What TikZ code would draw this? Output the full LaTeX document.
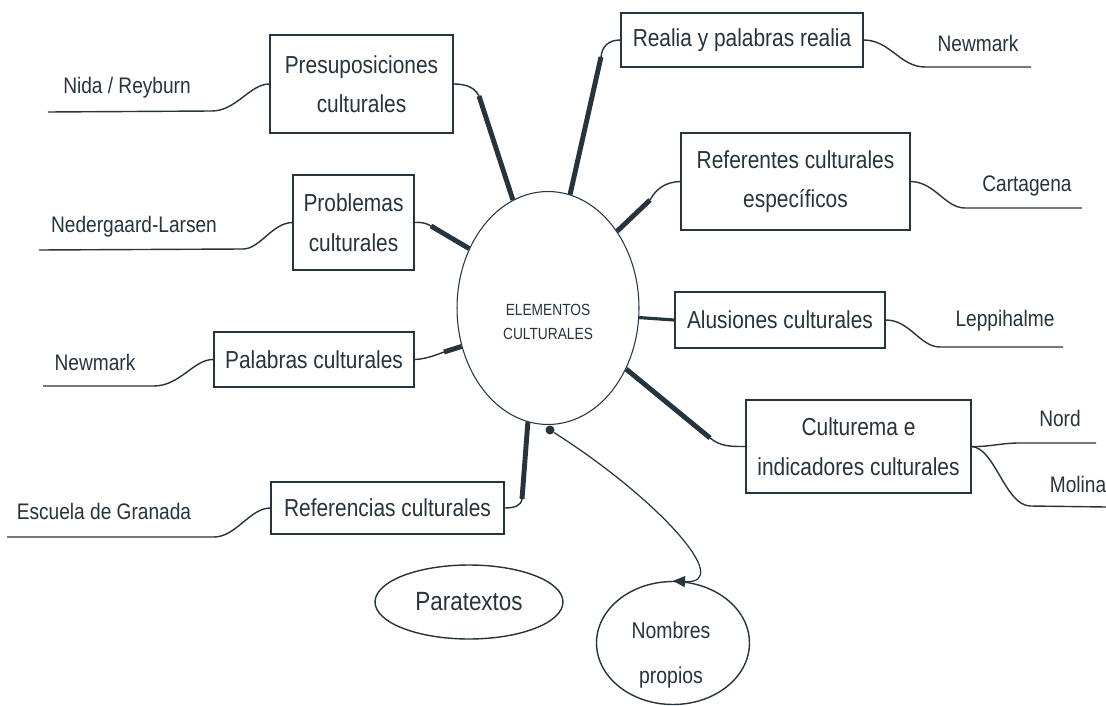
\documentclass[tikz,border=0pt]{standalone}
\usepackage{fontspec}
\setmainfont{Liberation Sans}[FakeStretch=0.85]
\usetikzlibrary{shapes.geometric,arrows.meta}
\definecolor{ink}{RGB}{38,52,62}
\begin{document}
\begin{tikzpicture}[x=0.02cm,y=-0.02cm,
  box/.style={draw=ink, line width=0.8pt, rectangle, inner sep=0pt, text=ink,
    font=\fontsize{14}{22.5}\selectfont, align=center},
  author/.style={text=ink, inner sep=0pt, font=\fontsize{12.8}{15}\selectfont},
  oval/.style={draw=ink, line width=0.8pt, ellipse, inner sep=0pt, text=ink, align=center},
  plaintext/.style={text=ink, inner sep=0pt, align=center},
  thinline/.style={draw=ink, line width=0.8pt},
  thickline/.style={draw=ink, line width=2.8pt},
  midline/.style={draw=ink, line width=1.8pt},
  arrowline/.style={draw=ink, line width=0.7pt, -{Triangle[length=2.4mm,width=2.2mm]}},
  dotnode/.style={circle, fill=ink, inner sep=0pt, minimum size=0.18cm}
]
\useasboundingbox (0,0) rectangle (1106,706);
\fill[white] (0,0) rectangle (1106,706);

% central egg
\node[oval, line width=0.6pt, minimum width=3.64cm, minimum height=4.66cm] (egg) at (548,308) {};
\node[plaintext, font=\fontsize{9.2}{14}\selectfont] (eggT) at (548,322) {ELEMENTOS\\CULTURALES};

% category boxes
\node[box, minimum width=3.66cm, minimum height=1.96cm] (presup) at (361.5,84) {Presuposiciones\\culturales};
\node[box, minimum width=2.42cm, minimum height=1.9cm] (probl) at (353.5,222.5) {Problemas\\culturales};
\node[box, minimum width=4.0cm, minimum height=1.1cm] (palab) at (314,359.5) {Palabras culturales};
\node[box, minimum width=4.66cm, minimum height=1.04cm] (refer) at (387.5,508) {Referencias culturales};
\node[box, minimum width=4.84cm, minimum height=1.08cm] (realia) at (742,40) {Realia y palabras realia};
\node[box, minimum width=4.58cm, minimum height=1.94cm] (refnt) at (795.5,181.5) {Referentes culturales\\específicos};
\node[box, minimum width=4.2cm, minimum height=1.12cm] (alus) at (780,320) {Alusiones culturales};
\node[box, minimum width=4.5cm, minimum height=1.86cm] (cult) at (858.5,446.5) {Culturema e\\indicadores culturales};

% ovals
\node[oval, minimum width=3.76cm, minimum height=1.48cm, font=\fontsize{15}{18}\selectfont] (para) at (469,602) {Paratextos};
\node[oval, minimum width=3.06cm, minimum height=2.46cm] (nomb) at (673,643) {};
\node[plaintext, font=\fontsize{13}{26}\selectfont] (nombT) at (671,655) {Nombres\\propios};

% authors
\node[author] (nida) at (127,88) {Nida / Reyburn};
\node[author] (neder) at (134,227) {Nedergaard-Larsen};
\node[author] (newL) at (95,362) {Newmark};
\node[author] (escu) at (104,511) {Escuela de Granada};
\node[author] (newR) at (978,43) {Newmark};
\node[author] (carta) at (1027,186) {Cartagena};
\node[author] (lepp) at (1005,321) {Leppihalme};
\node[author] (nord) at (1060,418) {Nord};
\node[author] (mol) at (1078,484) {Molina};

% free ends of the author underlines
\coordinate (nidaE) at (48,112);
\coordinate (nederE) at (39,250);
\coordinate (newLE) at (43,386);
\coordinate (escuE) at (7,537);
\coordinate (newRE) at (1031,67);
\coordinate (cartaE) at (1082,208);
\coordinate (leppE) at (1063,347);
\coordinate (nordE) at (1096,443);
\coordinate (molE) at (1106,507);

% author underlines
\draw[thinline] (presup.west) .. controls (250,84) and (236,111) .. (212,111) -- (nidaE);
\draw[thinline] (probl.west) .. controls (272,223) and (260,249) .. (243,249) -- (nederE);
\draw[thinline] (palab.west) .. controls (194,359) and (180,386) .. (154,386) -- (newLE);
\draw[thinline] (refer.west) .. controls (250,508) and (236,537) .. (214,537) -- (escuE);
\draw[thinline] (realia.east) .. controls (890,40) and (900,67) .. (925,67) -- (newRE);
\draw[thinline] (refnt.east) .. controls (935,182) and (945,208) .. (965,208) -- (cartaE);
\draw[thinline] (alus.east) .. controls (910,320) and (920,347) .. (940,347) -- (leppE);
\draw[thinline] (cult.east) .. controls (990,447) and (1000,443) .. (1020,443) -- (nordE);
\draw[thinline] (cult.east) .. controls (995,448) and (1005,505) .. (1030,506) -- (molE);

% knee points of the connectors to the egg
\coordinate (kPre) at (479,96);
\coordinate (kPro) at (431,226);
\coordinate (kPal) at (444,352);
\coordinate (kRef) at (522,499);
\coordinate (kRea) at (601,57);
\coordinate (kRfn) at (650,200);
\coordinate (kCul) at (710,438);

% connectors to the egg
\draw[thinline] (presup.east) .. controls (467,84) and (475,88) .. (kPre);
\draw[thickline] (kPre) -- (egg.108);
\draw[thinline] (probl.east) .. controls (421,222) and (426,223) .. (kPro);
\draw[thickline] (kPro) -- (egg.143);
\draw[thinline] (palab.east) .. controls (426,359) and (436,355) .. (kPal);
\draw[thickline] (kPal) -- (egg.204);
\draw[thinline] (refer.east) .. controls (514,508) and (521,506) .. (kRef);
\draw[thickline] (kRef) -- (egg.260);
\draw[thinline] (realia.west) .. controls (609,40) and (602,46) .. (kRea);
\draw[thickline] (kRea) -- (egg.79);
\draw[thinline] (refnt.west) .. controls (665,182) and (656,189) .. (kRfn);
\draw[thickline] (kRfn) -- (egg.48);
\draw[midline] (egg.354) -- (alus.west);
\draw[thickline] (egg.322) -- (kCul);
\draw[thinline] (kCul) .. controls (721,447) and (732,446.5) .. (cult.west);

% arrow to Nombres propios
\node[dotnode] (dot) at (550,430) {};
\draw[arrowline] (dot) .. controls (660,500) and (735,585) .. (nomb.north);
\end{tikzpicture}
\end{document}
